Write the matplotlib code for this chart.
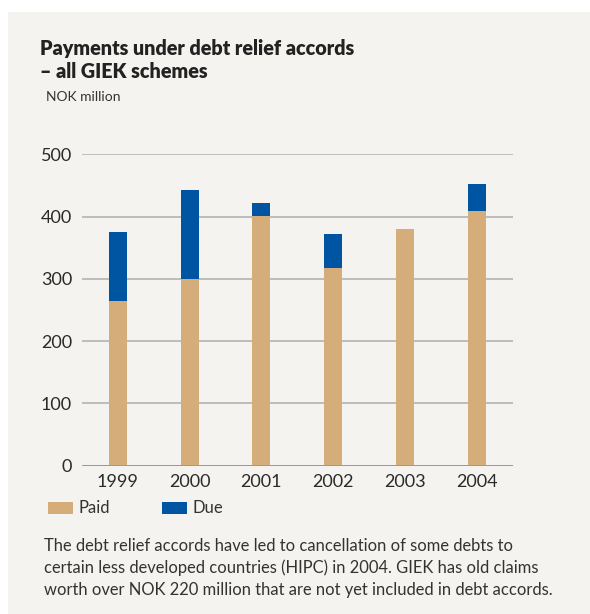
import matplotlib.pyplot as plt
from matplotlib.patches import Rectangle

years = ["1999", "2000", "2001", "2002", "2003", "2004"]
paid = [265, 300, 401, 318, 380, 409]
due = [111, 143, 21, 55, 0, 44]

paid_color = "#d4ad7b"
due_color = "#0055a2"
bg = "#f4f3ef"

plt.rcParams['font.family'] = ['Lato', 'DejaVu Sans']

fig = plt.figure(figsize=(5.9, 6.14), dpi=100)
fig.patch.set_facecolor("white")

# panel background
fig.add_artist(Rectangle((8 / 590, 0), 1, 1 - 12 / 614, transform=fig.transFigure,
                         facecolor=bg, edgecolor="none", zorder=-10))

ax = fig.add_axes([0.1385, 0.2415, 0.731, 0.5069])
ax.set_facecolor(bg)

x = range(len(years))
ax.bar(x, paid, width=0.25, color=paid_color, zorder=3)
ax.bar(x, due, width=0.25, bottom=paid, color=due_color, zorder=3)

ax.set_xlim(-0.5, 5.5)
ax.set_ylim(0, 500)
ax.set_yticks([0, 100, 200, 300, 400, 500])
ax.set_xticks(list(x))
ax.set_xticklabels(years)
ax.yaxis.grid(True, color="#b3b3b3", linewidth=1.2, zorder=0)
ax.axhline(0, color="#9a9a9a", linewidth=1.4, zorder=4)
for s in ax.spines.values():
    s.set_visible(False)
ax.tick_params(length=0, labelsize=13, colors="#2a2a2a")
ax.tick_params(axis="y", pad=7)
ax.tick_params(axis="x", pad=6)

# titles
fig.text(40 / 590, 1 - 48 / 614, "Payments under debt relief accords", fontsize=14.2,
         fontweight="heavy", color="#222222", va="center")
fig.text(40 / 590, 1 - 72 / 614, "\u2013 all GIEK schemes", fontsize=14.2,
         fontweight="heavy", color="#222222", va="center")
fig.text(46 / 590, 1 - 97 / 614, "NOK million", fontsize=10, color="#333333", va="center")

# legend
fig.add_artist(Rectangle((48 / 590, 1 - 514 / 614), 25 / 590, 12 / 614,
                         transform=fig.transFigure, facecolor=paid_color, edgecolor="none"))
fig.text(79 / 590, 1 - 508 / 614, "Paid", fontsize=12, color="#333333", va="center")
fig.add_artist(Rectangle((162 / 590, 1 - 514 / 614), 25 / 590, 12 / 614,
                         transform=fig.transFigure, facecolor=due_color, edgecolor="none"))
fig.text(193 / 590, 1 - 508 / 614, "Due", fontsize=12, color="#333333", va="center")

# footnote
note = ("The debt relief accords have led to cancellation of some debts to\n"
        "certain less developed countries (HIPC) in 2004. GIEK has old claims\n"
        "worth over NOK 220 million that are not yet included in debt accords.")
fig.text(44 / 590, 1 - 568 / 614, note, fontsize=11.9, color="#333333",
         va="center", linespacing=1.42)

fig.savefig("out.png", dpi=100, facecolor=fig.get_facecolor())
